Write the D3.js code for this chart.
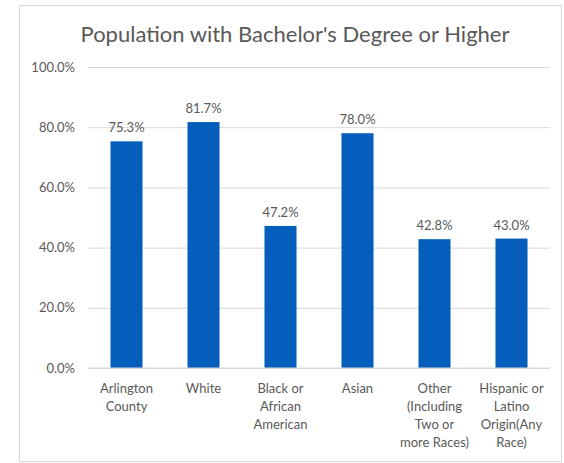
<!DOCTYPE html>
<html>
<head>
<meta charset="utf-8">
<script src="https://cdn.jsdelivr.net/npm/d3@7"></script>
<style>
  body { margin: 0; background: #fff; }
  text { font-family: Lato, "Open Sans", sans-serif; fill: #595959; }
</style>
</head>
<body>
<div class="chart"></div>
<script>
// data
var categories = ["Arlington County", "White", "Black or African American", "Asian",
  "Other (Including Two or more Races)", "Hispanic or Latino Origin(Any Race)"];
var catLines = [
  ["Arlington", "County"],
  ["White"],
  ["Black or", "African", "American"],
  ["Asian"],
  ["Other", "(Including", "Two or", "more Races)"],
  ["Hispanic or", "Latino", "Origin(Any", "Race)"]
];
var values = [75.3, 81.7, 47.2, 78.0, 42.8, 43.0];
var yTicks = [0, 20, 40, 60, 80, 100];

var svgWidth = 564;
var svgHeight = 463;
var margin = { top: 67, right: 14, bottom: 95, left: 88 };
var width = svgWidth - margin.left - margin.right;
var height = svgHeight - margin.top - margin.bottom;

var svg = d3.select(".chart")
  .append("svg")
  .attr("width", svgWidth)
  .attr("height", svgHeight);

// frame
svg.append("rect")
  .attr("x", 19.5).attr("y", 5.5)
  .attr("width", 542).attr("height", 456)
  .attr("fill", "#fff")
  .attr("stroke", "#d9d9d9");

svg.append("text")
  .attr("x", 295)
  .attr("y", 42)
  .attr("text-anchor", "middle")
  .style("font-size", "22px")
  .text("Population with Bachelor's Degree or Higher");

var chartGroup = svg.append("g")
  .attr("transform", `translate(${margin.left}, ${margin.top})`);

var x = d3.scaleBand()
  .domain(categories)
  .range([0, width])
  .paddingInner(0.584)
  .paddingOuter(0.292);

var y = d3.scaleLinear()
  .domain([0, 100])
  .range([height, 0]);

// gridlines + y labels
var leftAxis = d3.axisLeft(y)
  .tickValues(yTicks)
  .tickSize(-width)
  .tickPadding(13)
  .tickFormat(d => d3.format(".1f")(d) + "%");

var yAxis = chartGroup.append("g").call(leftAxis);
yAxis.select(".domain").remove();
yAxis.selectAll(".tick line").attr("stroke", "#d9d9d9");
yAxis.selectAll(".tick text")
  .style("font-size", "13px")
  .attr("fill", "#595959");

// bars
chartGroup.selectAll("rect.bar")
  .data(values)
  .enter()
  .append("rect")
  .attr("class", "bar")
  .attr("x", (d, i) => x(categories[i]))
  .attr("y", d => y(d))
  .attr("width", x.bandwidth())
  .attr("height", d => height - y(d))
  .attr("fill", "#065ebc");

// value labels
chartGroup.selectAll("text.val")
  .data(values)
  .enter()
  .append("text")
  .attr("class", "val")
  .attr("x", (d, i) => x(categories[i]) + x.bandwidth() / 2)
  .attr("y", d => y(d) - 9)
  .attr("text-anchor", "middle")
  .style("font-size", "13px")
  .text(d => d.toFixed(1) + "%");

// x axis line
chartGroup.append("line")
  .attr("x1", 0).attr("x2", width)
  .attr("y1", height).attr("y2", height)
  .attr("stroke", "#d9d9d9");

// category labels
var catGroup = chartGroup.selectAll("text.cat")
  .data(catLines)
  .enter()
  .append("text")
  .attr("class", "cat")
  .attr("text-anchor", "middle")
  .style("font-size", "13px");

catGroup.selectAll("tspan")
  .data((d, i) => d.map(t => ({ t: t, i: i })))
  .enter()
  .append("tspan")
  .attr("x", d => x(categories[d.i]) + x.bandwidth() / 2)
  .attr("y", (d, j) => height + 25 + j * 18)
  .text(d => d.t);
</script>
</body>
</html>
